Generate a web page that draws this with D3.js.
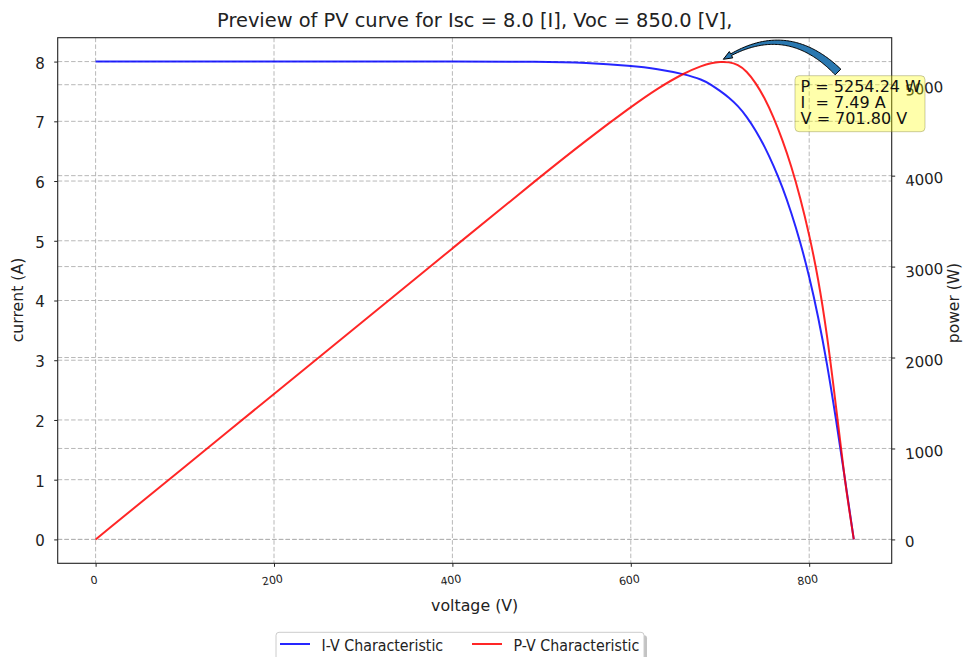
<!DOCTYPE html>
<html>
<head>
<meta charset="utf-8">
<script src="https://cdn.jsdelivr.net/npm/d3@7"></script>
<style>
  html, body { margin: 0; padding: 0; background: #fff; }
  svg { display: block; font-family: "DejaVu Sans", sans-serif; }
  text { white-space: pre; }
</style>
</head>
<body>
<div id="chart"></div>
<script>
// --- data ---
const voltage = [0, 100, 200, 300, 400, 500, 550, 600, 630, 660, 680, 690, 700, 710, 720, 730, 740, 750, 760, 770, 780, 790, 800, 810, 820, 830, 840, 845, 850];
const current = [8.00, 8.00, 8.00, 8.00, 8.00, 8.00, 7.98, 7.93, 7.88, 7.79, 7.70, 7.615, 7.51, 7.40, 7.26, 7.08, 6.85, 6.58, 6.26, 5.90, 5.47, 4.98, 4.41, 3.74, 2.95, 2.02, 1.02, 0.51, 0.00];
const power = [0, 800, 1600, 2400, 3200, 4000, 4389, 4755, 4960, 5130, 5210, 5238, 5252, 5250, 5222, 5150, 5020, 4855, 4645, 4395, 4105, 3760, 3355, 2880, 2260, 1470, 640, 320, 0];

const voltageTicks = [0, 200, 400, 600, 800];
const currentTicks = [0, 1, 2, 3, 4, 5, 6, 7, 8];
const powerTicks = [0, 1000, 2000, 3000, 4000, 5000];

const peakPower = 5254.24;
const peakCurrent = 7.49;
const peakVoltage = 701.80;

const titleText = "Preview of PV curve for Isc = 8.0 [I], Voc = 850.0 [V],";
const seriesNames = ["I-V Characteristic", "P-V Characteristic"];
const seriesColors = ["#0000ff", "#ff0000"];

// --- layout ---
const W = 963, H = 657;
const plot = { left: 57.7, right: 891.7, top: 37.7, bottom: 563.3 };
const gridColor = "#b0b0b0";
const gridDash = "4.5,2.2";

// matplotlib style 5% margins
const pad = ([a, b]) => { const m = (b - a) * 0.05; return [a - m, b + m]; };

const svg = d3.select("#chart").append("svg")
    .attr("width", W)
    .attr("height", H)
    .style("background", "#fff");

const x = d3.scaleLinear().domain(pad([0, d3.max(voltage)])).range([plot.left, plot.right]);
const yI = d3.scaleLinear().domain(pad([0, d3.max(current)])).range([plot.bottom, plot.top]);
const yP = d3.scaleLinear().domain(pad([0, peakPower])).range([plot.bottom, plot.top]);

// grid
const grid = svg.append("g").attr("fill", "none").attr("stroke", gridColor)
    .attr("stroke-width", 0.9).attr("stroke-dasharray", gridDash);
grid.selectAll(".gx").data(voltageTicks).join("line")
    .attr("x1", d => x(d)).attr("x2", d => x(d))
    .attr("y1", plot.top).attr("y2", plot.bottom);
grid.selectAll(".gi").data(currentTicks).join("line")
    .attr("x1", plot.left).attr("x2", plot.right)
    .attr("y1", d => yI(d)).attr("y2", d => yI(d));
grid.selectAll(".gp").data(powerTicks).join("line")
    .attr("x1", plot.left).attr("x2", plot.right)
    .attr("y1", d => yP(d)).attr("y2", d => yP(d));

// curves
const lineI = d3.line().x((d, i) => x(voltage[i])).y(d => yI(d)).curve(d3.curveBasis);
const lineP = d3.line().x((d, i) => x(voltage[i])).y(d => yP(d)).curve(d3.curveBasis);

svg.append("path").datum(current)
    .attr("fill", "none").attr("stroke", seriesColors[0]).attr("stroke-opacity", 0.85)
    .attr("stroke-width", 2).attr("d", lineI);
svg.append("path").datum(power)
    .attr("fill", "none").attr("stroke", seriesColors[1]).attr("stroke-opacity", 0.85)
    .attr("stroke-width", 2).attr("d", lineP);

// axes
const styleAxis = g => {
    g.attr("font-family", "DejaVu Sans, sans-serif").attr("font-size", 15);
    g.select(".domain").remove();
    g.selectAll(".tick line").attr("stroke", "#222").attr("stroke-width", 1);
    g.selectAll(".tick text").attr("fill", "#222");
};

const gx = svg.append("g")
    .attr("transform", `translate(0,${plot.bottom})`)
    .call(d3.axisBottom(x).tickValues(voltageTicks).tickSize(3.5))
    .call(styleAxis);
gx.selectAll(".tick text")
    .attr("font-size", 11)
    .attr("y", 0).attr("dy", "0.35em")
    .attr("transform", "translate(-2,16.7) rotate(-10)");

svg.append("g")
    .attr("transform", `translate(${plot.left},0)`)
    .call(d3.axisLeft(yI).tickValues(currentTicks).tickSize(3.5).tickPadding(9.5))
    .call(styleAxis)
    .selectAll(".tick text").attr("dy", "0.43em");

const gr = svg.append("g")
    .attr("transform", `translate(${plot.right},0)`)
    .call(d3.axisRight(yP).tickValues(powerTicks).tickSize(3.5).tickFormat(d3.format("d")))
    .call(styleAxis);
gr.selectAll(".tick text").each(function() {
    const w = this.getComputedTextLength();
    d3.select(this)
        .attr("x", 13.3).attr("y", 1.2).attr("dy", "0.35em")
        .attr("text-anchor", "start")
        .attr("transform", `rotate(-6,${13.3 + w},1.2)`);
});

// frame
svg.append("rect")
    .attr("x", plot.left).attr("y", plot.top)
    .attr("width", plot.right - plot.left).attr("height", plot.bottom - plot.top)
    .attr("fill", "none").attr("stroke", "#222").attr("stroke-width", 1.1);

// titles
svg.append("text")
    .attr("x", (plot.left + plot.right) / 2).attr("y", 27.3)
    .attr("text-anchor", "middle").attr("font-size", 19.4).attr("fill", "#222")
    .text(titleText);
svg.append("text")
    .attr("x", (plot.left + plot.right) / 2).attr("y", 610.5)
    .attr("text-anchor", "middle").attr("font-size", 15.8).attr("fill", "#222")
    .text("voltage (V)");
svg.append("text")
    .attr("transform", "translate(23,300) rotate(-90)")
    .attr("text-anchor", "middle").attr("font-size", 15.7).attr("fill", "#222")
    .text("current (A)");
svg.append("text")
    .attr("transform", "translate(959,303) rotate(-90)")
    .attr("text-anchor", "middle").attr("font-size", 15.5).attr("fill", "#222")
    .text("power (W)");

// annotation of the maximum power point
const px = x(peakVoltage), py = yP(peakPower);

function fancyArrow(S, E, rad, w0, w1, headLen, headW) {
    const mx = (S[0] + E[0]) / 2, my = (S[1] + E[1]) / 2;
    const dx = E[0] - S[0], dy = E[1] - S[1];
    const C = [mx + rad * dy, my - rad * dx];
    const at = t => [
        (1 - t) * (1 - t) * S[0] + 2 * (1 - t) * t * C[0] + t * t * E[0],
        (1 - t) * (1 - t) * S[1] + 2 * (1 - t) * t * C[1] + t * t * E[1]
    ];
    const tan = t => {
        const a = 2 * (1 - t) * (C[0] - S[0]) + 2 * t * (E[0] - C[0]);
        const b = 2 * (1 - t) * (C[1] - S[1]) + 2 * t * (E[1] - C[1]);
        const l = Math.hypot(a, b);
        return [a / l, b / l];
    };
    const N = 80, lens = [0];
    let prev = at(0);
    for (let i = 1; i <= N; i++) {
        const p = at(i / N);
        lens.push(lens[i - 1] + Math.hypot(p[0] - prev[0], p[1] - prev[1]));
        prev = p;
    }
    const total = lens[N];
    let iH = N;
    while (iH > 0 && total - lens[iH] < headLen) iH--;
    const left = [], right = [];
    for (let i = 0; i <= iH; i++) {
        const t = i / N, p = at(t), d = tan(t);
        const w = w0 + (w1 - w0) * (i / iH);
        left.push([p[0] - d[1] * w, p[1] + d[0] * w]);
        right.push([p[0] + d[1] * w, p[1] - d[0] * w]);
    }
    const pb = at(iH / N), db = tan(iH / N);
    const hl = [pb[0] - db[1] * headW, pb[1] + db[0] * headW];
    const hr = [pb[0] + db[1] * headW, pb[1] - db[0] * headW];
    const pts = [...left, hl, E, hr, ...right.reverse()];
    return "M" + pts.map(p => p[0].toFixed(2) + "," + p[1].toFixed(2)).join("L") + "Z";
}

svg.append("path")
    .attr("d", fancyArrow([px + 116.4, py + 10.4], [px + 1.7, py - 2.3], -0.4, 4, 0.9, 8, 3.6))
    .attr("fill", "#2a78b0").attr("stroke", "#000").attr("stroke-width", 1);

svg.append("rect")
    .attr("x", px + 73.4).attr("y", py + 14.1)
    .attr("width", 130).attr("height", 56).attr("rx", 4)
    .attr("fill", "#ffff00").attr("fill-opacity", 0.33)
    .attr("stroke", "#6b6b2a").attr("stroke-opacity", 0.35).attr("stroke-width", 1);

const annLines = [
    `P = ${peakPower.toFixed(2)} W`,
    `I  = ${peakCurrent.toFixed(2)} A`,
    `V = ${peakVoltage.toFixed(2)} V`
];
svg.append("g").selectAll("text").data(annLines).join("text")
    .attr("x", px + 79).attr("y", (d, i) => py + 30.1 + i * 16.3)
    .attr("font-size", 16).attr("fill", "#111")
    .text(d => d);

// legend
const lg = svg.append("g");
lg.append("rect").attr("x", 279).attr("y", 635.3).attr("width", 368).attr("height", 40)
    .attr("rx", 3).attr("fill", "#888").attr("fill-opacity", 0.5);
lg.append("rect").attr("x", 276).attr("y", 632.3).attr("width", 368).attr("height", 40)
    .attr("rx", 3).attr("fill", "#fff").attr("stroke", "#ccc").attr("stroke-width", 1);
const legendX = [280, 472];
const items = lg.selectAll(".item").data(seriesNames).join("g")
    .attr("transform", (d, i) => `translate(${legendX[i]},644)`);
items.append("line").attr("x1", 0).attr("x2", 30).attr("y1", 0).attr("y2", 0)
    .attr("stroke", (d, i) => seriesColors[i]).attr("stroke-opacity", 0.85).attr("stroke-width", 2);
items.append("text")
    .attr("transform", "translate(41.5,7) scale(0.89,1)")
    .attr("font-size", 16).attr("fill", "#222")
    .text(d => d);
</script>
</body>
</html>
